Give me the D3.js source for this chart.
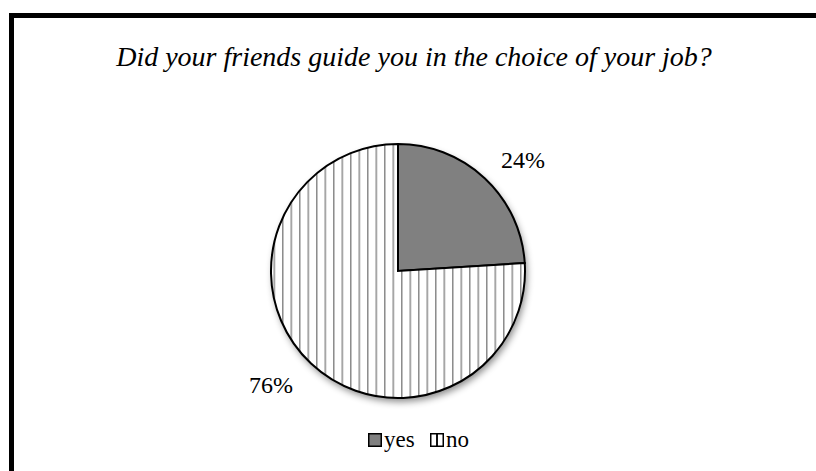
<!DOCTYPE html>
<html>
<head>
<meta charset="utf-8">
<script src="https://cdn.jsdelivr.net/npm/d3@7"></script>
<style>
  html, body { margin: 0; padding: 0; background: #fff; }
  svg { display: block; }
</style>
</head>
<body>
<svg id="chart" width="816" height="471"></svg>
<script>
// Survey answers
const title = "Did your friends guide you in the choice of your job?";
const categories = ["yes", "no"];
const values = [24, 76];
const labels = ["24%", "76%"];

const W = 816, H = 471;
const cx = 398, cy = 271, R = 127;
const serif = "'Liberation Serif', 'Times New Roman', Times, serif";

const svg = d3.select("#chart");
const defs = svg.append("defs");

// Vertical hatch for the "no" slice
const pat = defs.append("pattern")
  .attr("id", "vstripes")
  .attr("patternUnits", "userSpaceOnUse")
  .attr("width", 8.5).attr("height", 10)
  .attr("x", 3);
pat.append("rect").attr("width", 8.5).attr("height", 10).attr("fill", "#fff");
pat.append("rect").attr("x", 0).attr("width", 1.5).attr("height", 10).attr("fill", "#8c8c8c");

// Legend swatch hatch: a single bar down the middle of the box
const legPat = defs.append("pattern")
  .attr("id", "legstripes")
  .attr("patternUnits", "userSpaceOnUse")
  .attr("width", 14).attr("height", 10).attr("x", 0);
legPat.append("rect").attr("width", 14).attr("height", 10).attr("fill", "#fff");
legPat.append("rect").attr("x", 6).attr("width", 2).attr("height", 10).attr("fill", "#111");

const shadow = defs.append("filter").attr("id", "shadow")
  .attr("x", "-20%").attr("y", "-20%").attr("width", "150%").attr("height", "150%");
shadow.append("feDropShadow")
  .attr("dx", 2).attr("dy", 4).attr("stdDeviation", 3.5)
  .attr("flood-color", "#000").attr("flood-opacity", 0.45);

// Outer frame
svg.append("rect")
  .attr("x", 11.5).attr("y", 15.5)
  .attr("width", 900).attr("height", 600)
  .attr("fill", "#fff").attr("stroke", "#000").attr("stroke-width", 5);

// Title
svg.append("text")
  .attr("x", 414).attr("y", 66)
  .attr("text-anchor", "middle")
  .attr("font-family", serif)
  .attr("font-style", "italic")
  .attr("font-size", 28)
  .attr("fill", "#000")
  .text(title);

const fills = d3.scaleOrdinal().domain(categories).range(["#808080", "url(#vstripes)"]);
const legFills = d3.scaleOrdinal().domain(categories).range(["#808080", "url(#legstripes)"]);

const pie = d3.pie().sort(null).value(d => d.value);
const data = pie(categories.map((c, i) => ({ cat: c, value: values[i], label: labels[i] })));
const arc = d3.arc().innerRadius(0).outerRadius(R);
const labelArc = d3.arc().innerRadius(168).outerRadius(168);

const g = svg.append("g").attr("transform", `translate(${cx},${cy})`);

// Shadowed base disc
g.append("circle").attr("r", R).attr("fill", "#fff").attr("filter", "url(#shadow)");

g.selectAll("path.slice")
  .data(data)
  .join("path")
  .attr("class", "slice")
  .attr("d", arc)
  .attr("fill", d => fills(d.data.cat))
  .attr("stroke", "#000")
  .attr("stroke-width", 2)
  .attr("stroke-linejoin", "miter");

// Percentage labels, nudged off the centroid of an outer ring
const nudges = [[10, 11], [-12, -8]];
g.selectAll("text.lbl")
  .data(data)
  .join("text")
  .attr("class", "lbl")
  .attr("transform", d => {
    const [x, y] = labelArc.centroid(d);
    return `translate(${x},${y})`;
  })
  .attr("dx", (d, i) => nudges[i][0])
  .attr("dy", (d, i) => nudges[i][1])
  .attr("text-anchor", "middle")
  .attr("dominant-baseline", "central")
  .attr("font-family", serif)
  .attr("font-size", 24)
  .attr("fill", "#000")
  .text(d => d.data.label);

// Legend
const legend = svg.append("g").attr("transform", "translate(368,433)");
const items = legend.selectAll("g")
  .data(categories)
  .join("g")
  .attr("transform", (d, i) => `translate(${i === 0 ? 0 : 62},0)`);
items.append("rect")
  .attr("x", 0.75).attr("y", 0.75)
  .attr("width", 12.5).attr("height", 12.5)
  .attr("fill", d => legFills(d))
  .attr("stroke", "#000").attr("stroke-width", 1.5);
items.append("text")
  .attr("x", 16).attr("y", 14)
  .attr("font-family", serif)
  .attr("font-size", 23)
  .attr("fill", "#000")
  .text(d => d);
</script>
</body>
</html>
